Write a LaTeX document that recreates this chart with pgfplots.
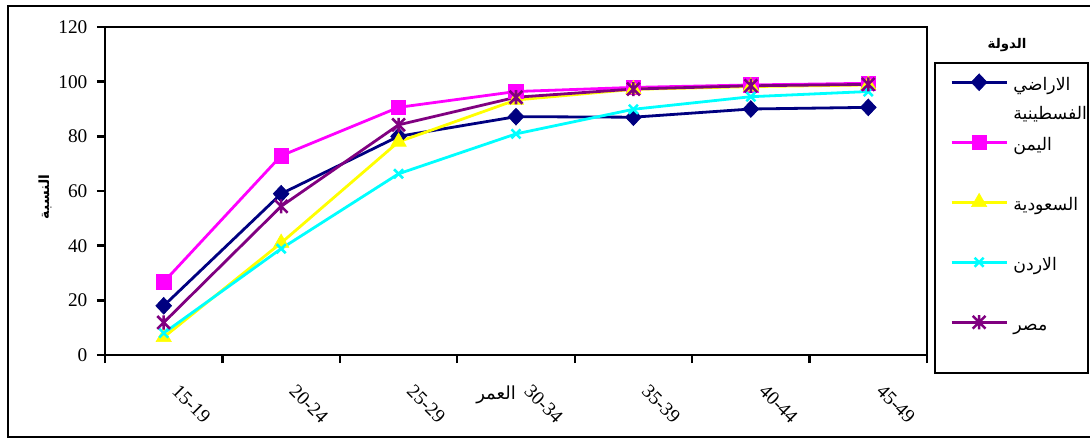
\documentclass[border=0pt]{standalone}
\usepackage{fontspec}
\setmainfont{Liberation Serif}
\newfontfamily\arabicfont[Script=Arabic]{DejaVu Sans}
\usepackage{pgfplots}
\pgfplotsset{compat=1.18}
\TeXXeTstate=1
\definecolor{cnavy}{RGB}{0,0,128}
\definecolor{cmag}{RGB}{255,0,255}
\definecolor{cyel}{RGB}{255,255,0}
\definecolor{ccyan}{RGB}{0,255,255}
\definecolor{cpurp}{RGB}{128,0,128}
\newcommand{\ar}[1]{{\arabicfont\beginR #1\endR}}
\pgfdeclareplotmark{xstar}{%
  \pgfpathmoveto{\pgfqpoint{-\pgfplotmarksize}{-\pgfplotmarksize}}%
  \pgfpathlineto{\pgfqpoint{\pgfplotmarksize}{\pgfplotmarksize}}%
  \pgfpathmoveto{\pgfqpoint{-\pgfplotmarksize}{\pgfplotmarksize}}%
  \pgfpathlineto{\pgfqpoint{\pgfplotmarksize}{-\pgfplotmarksize}}%
  \pgfpathmoveto{\pgfqpoint{0pt}{-1.1\pgfplotmarksize}}%
  \pgfpathlineto{\pgfqpoint{0pt}{1.1\pgfplotmarksize}}%
  \pgfusepathqstroke}
\begin{document}
\begin{tikzpicture}[x=0.75pt,y=-0.75pt]
\useasboundingbox (0,0) rectangle (1090,439);
\draw[line width=1.6pt] (8,437) rectangle (1110,6);
\begin{axis}[
  at={(78.75pt,-266.25pt)}, anchor=south west,
  scale only axis, width=616.5pt, height=246pt,
  xmin=-0.5, xmax=6.5, ymin=0, ymax=120,
  xtick={0,...,6},
  xticklabels={15-19,20-24,25-29,30-34,35-39,40-44,45-49},
  minor xtick={-0.5,0.5,...,6.5},
  ytick={0,20,...,120},
  minor ytick={0,20,...,120},
  tick align=outside,
  xtick pos=left, ytick pos=left,
  major tick length=0pt, minor tick length=6pt,
  tick style={black, line width=1.8pt},
  axis line style={black, line width=1.8pt},
  /pgf/number format/assume math mode=true,
  tick label style={font=\fontsize{14.5}{16}\selectfont},
  yticklabel style={inner sep=0pt, anchor=east, xshift=-13pt},
  xticklabel style={inner sep=0pt, xshift=12.3pt, yshift=-21pt, rotate=-45, anchor=north west},
  legend style={at={(1.028,0.869)}, anchor=north west, draw=none, fill=none,
    inner sep=0pt, row sep=27pt, column sep=3pt,
    font=\fontsize{13}{22}\selectfont,
    nodes={inner sep=1pt, text height=14pt, text depth=2pt}},
  legend cell align=left,
  legend image code/.code={\draw[mark repeat=2,mark phase=2] plot coordinates {(0pt,0pt) (20.6pt,0pt) (41.25pt,0pt)};},
]
\addplot[cnavy, line width=2.1pt, mark=diamond*, mark size=6.3pt, mark options={xscale=1.25, fill=cnavy, line width=0.5pt}]
 coordinates {(0,18) (1,59) (2,80) (3,87.2) (4,87) (5,90) (6,90.6)};
\addlegendentry{\vtop{\hbox{\ar{الاراضي}}\hbox{\ar{الفسطينية}}}}
\addplot[cmag, line width=2.1pt, mark=square*, mark size=5.4pt, mark options={fill=cmag, line width=0.5pt}]
 coordinates {(0,26.7) (1,72.9) (2,90.6) (3,96.4) (4,97.9) (5,98.8) (6,99.4)};
\addlegendentry{\ar{اليمن}}
\addplot[cyel, line width=2.1pt, mark=triangle*, mark size=6.6pt, mark options={fill=cyel, line width=0.5pt}]
 coordinates {(0,6.5) (1,41) (2,78) (3,93.3) (4,97.2) (5,98.2) (6,98.8)};
\addlegendentry{\ar{السعودية}}
\addplot[ccyan, line width=2.1pt, mark=x, mark size=4.8pt, mark options={line width=1.9pt}]
 coordinates {(0,8) (1,38.9) (2,66.3) (3,80.9) (4,89.9) (5,94.5) (6,96.4)};
\addlegendentry{\ar{الاردن}}
\addplot[cpurp, line width=2.1pt, mark=xstar, mark size=4.8pt, mark options={line width=1.9pt}]
 coordinates {(0,11.9) (1,54.4) (2,84.2) (3,94.3) (4,97.3) (5,98.5) (6,99)};
\addlegendentry{\ar{مصر}}
\end{axis}
\draw[line width=1.8pt] (935,373) rectangle (1088,63);
\node[font=\fontsize{10}{12}\selectfont\bfseries] at (1007,45) {\ar{الدولة}};
\node[rotate=90, font=\fontsize{10.5}{12}\selectfont\bfseries] at (45,197) {\ar{النسبة}};
\node[font=\fontsize{13.5}{15}\selectfont] at (496,395) {\ar{العمر}};
\end{tikzpicture}
\end{document}
